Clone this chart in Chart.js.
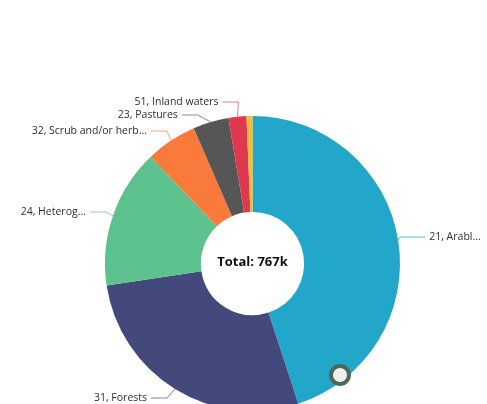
<!DOCTYPE html>
<html>
<head>
<meta charset="utf-8">
<script src="https://cdn.jsdelivr.net/npm/chart.js@4/dist/chart.umd.min.js"></script>
<style>
  html, body { margin: 0; padding: 0; background: #fff; }
  #wrap { width: 487px; height: 404px; overflow: hidden; position: relative; }
  canvas { display: block; }
</style>
</head>
<body>
<div id="wrap"><canvas id="c" width="487" height="420"></canvas></div>
<script>
// Land cover area by class (thousands)
const categories = ['21, Arable land', '31, Forests', '24, Heterogeneous agricultural areas',
  '32, Scrub and/or herbaceous vegetation', '23, Pastures', '51, Inland waters', '41, Inland wetlands'];
const shortLabels = ['21, Arabl...', '31, Forests', '24, Heterog...', '32, Scrub and/or herb...',
  '23, Pastures', '51, Inland waters', ''];
const areaK = [345, 212, 117, 43, 30, 15, 5];
const totalLabel = 'Total: 767k';

const colors = ['#22a6c9', '#434a7b', '#5dc28d', '#f97a3a', '#565656', '#e0394f', '#f4bf33'];
const lineColors = ['#5bbcd8', '#7a809f', '#8fd3ae', '#f8a277', '#8a8a8a', '#e9788a', '#f4bf33'];
// label row (y) and elbow shift for each callout
const calloutY = [237, 398, 212, 131, 115, 102, null];
const elbowDx = [2, -8, -7, -4, -13, 1, 0];

const calloutPlugin = {
  id: 'callouts',
  afterDraw(chart) {
    const ctx = chart.ctx;
    const meta = chart.getDatasetMeta(0);
    ctx.save();
    ctx.font = '10.5px "Open Sans", sans-serif';
    ctx.textBaseline = 'middle';
    meta.data.forEach((arc, i) => {
      if (!shortLabels[i] || calloutY[i] == null) return;
      const p = arc.getProps(['x', 'y', 'startAngle', 'endAngle', 'outerRadius'], true);
      const mid = (p.startAngle + p.endAngle) / 2;
      const ax = p.x + Math.cos(mid) * p.outerRadius;
      const ay = p.y + Math.sin(mid) * p.outerRadius;
      const right = Math.cos(mid) >= 0;
      const ex = ax + elbowDx[i];
      const ey = calloutY[i];
      const hx = ex + (right ? 25 : -16);
      ctx.strokeStyle = lineColors[i];
      ctx.lineWidth = 1;
      ctx.beginPath();
      ctx.moveTo(ax, ay);
      ctx.lineTo(ex, ey);
      ctx.lineTo(hx, ey);
      ctx.stroke();
      ctx.fillStyle = '#2e2e2e';
      ctx.textAlign = right ? 'left' : 'right';
      ctx.fillText(shortLabels[i], hx + (right ? 4 : -4), ey);
    });
    // centre total
    const a = meta.data[0];
    ctx.font = 'bold 13px "Open Sans", sans-serif';
    ctx.fillStyle = '#111';
    ctx.textAlign = 'center';
    ctx.fillText(totalLabel, a.x, a.y - 1);
    // pointer ring
    ctx.beginPath();
    ctx.arc(340, 375, 9, 0, Math.PI * 2);
    ctx.fillStyle = '#eeeeee';
    ctx.fill();
    ctx.lineWidth = 4;
    ctx.strokeStyle = '#4c6a5b';
    ctx.stroke();
    ctx.restore();
  }
};

new Chart(document.getElementById('c'), {
  type: 'doughnut',
  data: {
    labels: categories,
    datasets: [{
      data: areaK,
      backgroundColor: colors,
      borderWidth: 0
    }]
  },
  options: {
    responsive: false,
    animation: false,
    cutout: '35%',
    layout: { padding: { left: 105, right: 87, top: 116, bottom: 9 } },
    plugins: { legend: { display: false }, tooltip: { enabled: false } }
  },
  plugins: [calloutPlugin]
});
</script>
</body>
</html>
